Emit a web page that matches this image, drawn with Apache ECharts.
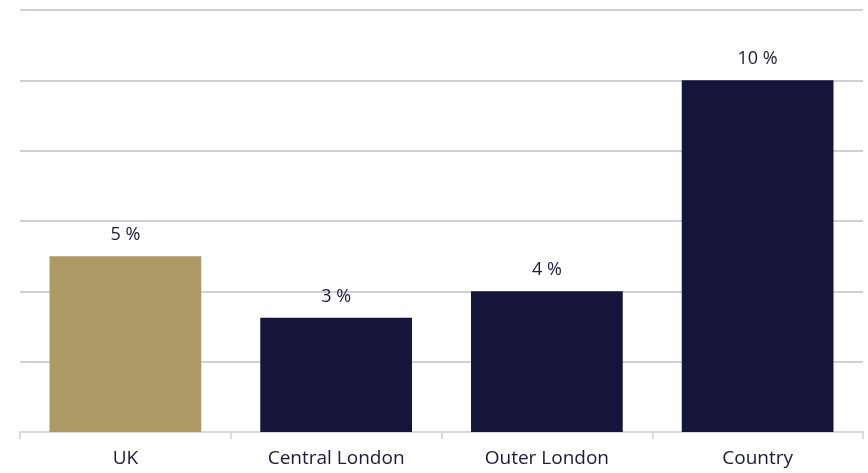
<!DOCTYPE html>
<html><head><meta charset="utf-8">
<script src="https://cdn.jsdelivr.net/npm/echarts@6/dist/echarts.min.js"></script>
<style>html,body{margin:0;padding:0;background:#fff}#c{width:868px;height:473px}</style>
</head><body><div id="c"></div>
<script>
const categories = ["UK", "Central London", "Outer London", "Country"];
const values = [5, 3.25, 4, 10];
const barColors = ["#ad9963", "#15143b", "#15143b", "#15143b"];
const chart = echarts.init(document.getElementById('c'), null, {renderer: 'canvas'});
chart.setOption({
  animation: false,
  grid: {left: 20, right: 5, top: 10, bottom: 41, containLabel: false},
  xAxis: {
    type: 'category', data: categories,
    axisLine: {lineStyle: {color: '#d9d9d9', width: 2}},
    axisTick: {show: true, length: 7, lineStyle: {color: '#d9d9d9', width: 2}},
    axisLabel: {color: '#1a1a3a', fontSize: 19, fontFamily: 'Open Sans', margin: 17}
  },
  yAxis: {
    type: 'value', min: 0, max: 12, interval: 2,
    axisLabel: {show: false}, axisLine: {show: false}, axisTick: {show: false},
    splitLine: {lineStyle: {color: '#cfd0dc', width: 2}}
  },
  series: [{
    type: 'bar', barWidth: '72%', barCategoryGap: '28%',
    data: values.map((v, i) => ({value: v, itemStyle: {color: barColors[i]}})),
    label: {show: true, position: 'top', distance: 12, color: '#1a1a3a', fontSize: 18, fontFamily: 'Open Sans',
      formatter: p => Math.round(p.value) + ' %'}
  }]
});
</script></body></html>
